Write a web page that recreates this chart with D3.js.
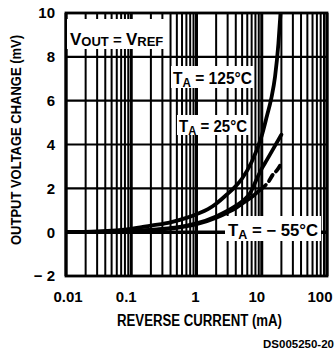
<!DOCTYPE html>
<html lang="en">
<head>
<meta charset="UTF-8">
<title>Output Voltage Change vs Reverse Current</title>
<script src="https://d3js.org/d3.v7.min.js"></script>
<style>
    body { margin: 0; background: #fff; }
    svg { display: block; }
    text { font-family: "Liberation Sans", Arial, Helvetica, sans-serif; font-weight: bold; fill: #000; }
    .grid line { stroke: #000; }
    .curve { fill: none; stroke: #000; stroke-width: 3.8; stroke-linecap: round; stroke-linejoin: round; }
</style>
</head>
<body>
<svg id="chart" width="336" height="351"></svg>
<script>
    // tick values / labels
    const xTicks = [0.01, 0.1, 1, 10, 100];
    const xTickLabels = ["0.01", "0.1", "1", "10", "100"];
    const yTicks = [-2, 0, 2, 4, 6, 8, 10];
    const yTickLabels = ["\u2212 2", "0", "2", "4", "6", "8", "10"];

    // curves: reverse current (mA) vs output voltage change (mV)
    const hotCurrent = [0.01, 0.03, 0.1, 0.2, 0.4, 0.7, 1, 1.5, 2, 3, 4, 5, 7, 10, 12, 14, 16, 18, 19.6];
    const hotChange  = [0, 0.03, 0.15, 0.3, 0.45, 0.65, 0.82, 1.05, 1.3, 1.75, 2.1, 2.45, 3.2, 4.4, 5.3, 6.1, 7.1, 8.6, 10.2];

    const roomCurrent = [0.01, 0.03, 0.1, 0.3, 0.5, 1, 2, 3, 4, 5, 6.7, 8.6, 10, 12, 15, 20];
    const roomChange  = [0, 0.01, 0.06, 0.15, 0.22, 0.4, 0.72, 0.98, 1.2, 1.4, 1.8, 2.5, 2.9, 3.3, 3.8, 4.45];

    const coldCurrent = [0.01, 0.03, 0.1, 0.3, 0.5, 1, 2, 3, 4, 5, 7, 9.6, 12.7, 15, 17.4, 20];
    const coldChange  = [0, 0.01, 0.05, 0.13, 0.2, 0.36, 0.66, 0.9, 1.1, 1.3, 1.6, 1.95, 2.3, 2.65, 2.85, 3.15];
    const coldDashFrom = 9.6; // dashed above this current

    const xLabelNudge = [2, -5, -1, -5, -7];

    const svg = d3.select("#chart");
    const plotL = 66, plotR = 327, plotT = 13, plotB = 276;

    const x = d3.scaleLog().domain([0.01, 100]).range([plotL, plotR]);
    const y = d3.scaleLinear().domain([-2, 10]).range([plotB, plotT]);

    svg.append("defs").append("clipPath").attr("id", "plot")
        .append("rect").attr("x", plotL).attr("y", plotT).attr("width", plotR - plotL).attr("height", plotB - plotT);

    // grid
    const grid = svg.append("g").attr("class", "grid");
    grid.selectAll("line.v")
        .data(x.ticks())
        .enter().append("line")
        .attr("x1", d => x(d)).attr("x2", d => x(d))
        .attr("y1", plotT).attr("y2", plotB)
        .attr("stroke-width", d => xTicks.includes(d) ? 3 : 2);

    grid.selectAll("line.h")
        .data(yTicks)
        .enter().append("line")
        .attr("x1", plotL).attr("x2", plotR)
        .attr("y1", d => y(d)).attr("y2", d => y(d))
        .attr("stroke-width", d => d === 0 ? 3.5 : 2.2);

    svg.append("rect")
        .attr("x", plotL).attr("y", plotT).attr("width", plotR - plotL).attr("height", plotB - plotT)
        .attr("fill", "none").attr("stroke", "#000").attr("stroke-width", 2.8);

    // curves
    const line = d3.line().x(d => x(d[0])).y(d => y(d[1])).curve(d3.curveMonotoneX);
    const curves = svg.append("g").attr("clip-path", "url(#plot)");
    const hot = d3.zip(hotCurrent, hotChange);
    const room = d3.zip(roomCurrent, roomChange);
    const cold = d3.zip(coldCurrent, coldChange);

    curves.append("path").attr("class", "curve").attr("d", line(hot));
    curves.append("path").attr("class", "curve").attr("d", line(room));
    curves.append("path").attr("class", "curve").attr("d", line(cold.filter(d => d[0] <= coldDashFrom)));
    curves.append("path").attr("class", "curve")
        .attr("stroke-dasharray", "7 5").attr("stroke-linecap", "butt")
        .attr("d", line(cold.filter(d => d[0] >= coldDashFrom)));

    // axes labels
    svg.append("g").selectAll("text")
        .data(yTicks)
        .enter().append("text")
        .attr("x", plotL - 11).attr("y", d => y(d))
        .attr("dy", "0.36em")
        .attr("text-anchor", "end")
        .attr("font-size", 15)
        .text((d, i) => yTickLabels[i]);

    svg.append("g").selectAll("text")
        .data(xTicks)
        .enter().append("text")
        .attr("x", (d, i) => x(d) + xLabelNudge[i]).attr("y", 302)
        .attr("text-anchor", "middle")
        .attr("font-size", 15)
        .text((d, i) => xTickLabels[i]);

    svg.append("text")
        .attr("x", 117).attr("y", 326)
        .attr("font-size", 16)
        .attr("textLength", 165).attr("lengthAdjust", "spacingAndGlyphs")
        .text("REVERSE CURRENT (mA)");

    svg.append("text")
        .attr("transform", "translate(21,245) rotate(-90)")
        .attr("font-size", 15)
        .attr("textLength", 210).attr("lengthAdjust", "spacingAndGlyphs")
        .text("OUTPUT VOLTAGE CHANGE (mV)");

    // figure code, kept inside the frame
    svg.append("text")
        .attr("x", 334).attr("y", 348)
        .attr("text-anchor", "end")
        .attr("font-size", 11.5)
        .attr("font-weight", "normal")
        .text("DS005250-20");

    // boxed annotations
    function note(px, py, width, box, parts) {
        const g = svg.append("g");
        g.append("rect").attr("fill", "#fff")
            .attr("x", box[0]).attr("y", box[1]).attr("width", box[2] - box[0]).attr("height", box[3] - box[1]);
        const t = g.append("text").attr("x", px).attr("y", py);
        if (width) t.attr("textLength", width).attr("lengthAdjust", "spacingAndGlyphs");
        parts.forEach(p => {
            t.append("tspan").attr("font-size", p[1]).attr("dy", p[2] || 0).text(p[0]);
        });
    }

    note(70, 45, null, [67, 19, 164, 49], [["V", 17], ["OUT", 13, 1], [" = ", 15, -1], ["V", 17], ["REF", 13, 1]]);
    note(173, 84, 79, [171, 66, 254, 88], [["T", 16], ["A", 12, 3], [" = 125°C", 16, -3]]);
    note(179, 132, 68, [177, 115, 249, 135], [["T", 16], ["A", 12, 3], [" = 25°C", 16, -3]]);
    note(228, 236, 90, [225, 216, 321, 241], [["T", 16], ["A", 12, 3], [" = \u2212 55°C", 16, -3]]);
</script>
</body>
</html>
